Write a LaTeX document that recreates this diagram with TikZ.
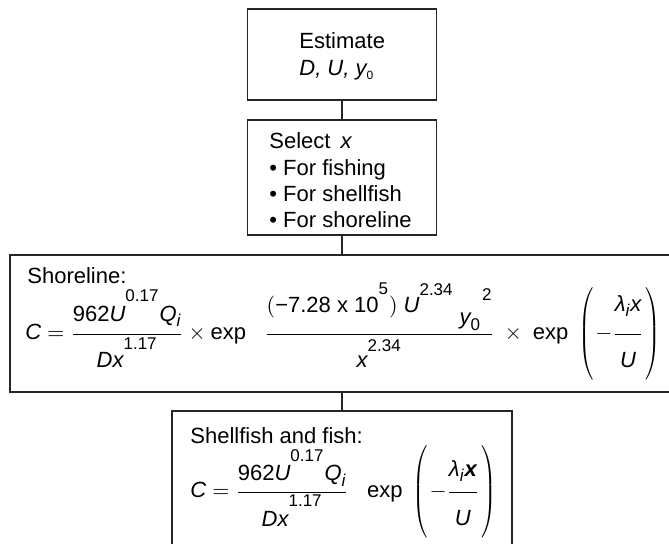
\documentclass[tikz,border=0pt]{standalone}
\usepackage{graphicx}
\usepackage{amsmath}
\usepackage{fontspec}
\setmainfont{Liberation Sans}
\newcommand{\iv}[1]{\text{\itshape #1}}
\newcommand{\pw}[2][7pt]{^{\raisebox{#1}{\fontsize{8.5}{9}\selectfont #2}}}
\newcommand{\pd}[1]{^{\raisebox{4.5pt}{\fontsize{8.5}{9}\selectfont #1}}}
\newcommand{\sbt}[1]{_{\text{\fontsize{8.5}{9}\selectfont #1}}}
\newcommand{\sm}[1]{{\upshape\fontsize{8.5}{9}\selectfont #1}}
% fraction with fixed gaps: num depth #3, den height #4
\newcommand{\wfrac}[4]{\dfrac{#1\rule[-#3]{0pt}{#3}}{\rule{0pt}{#4}#2}}
% tall narrow brackets
\newcommand{\bopen}{\mathopen{\scalebox{0.8}[1]{$\left(\rule[-22.25pt]{0pt}{50pt}\right.$}}}
\newcommand{\bclose}{\mathclose{\scalebox{0.8}[1]{$\left.\rule[-22.25pt]{0pt}{50pt}\right)$}}}

\begin{document}
\begin{tikzpicture}[x=0.5pt,y=-0.5pt,font={\fontsize{11}{13}\selectfont},
  box/.style={draw=black!85, line width=0.75pt, inner sep=0pt, outer sep=0pt},
  link/.style={draw=black!85, line width=0.6pt},
  txt/.style={anchor=base west, inner sep=0pt}]
\useasboundingbox (0,0) rectangle (669,543);
% boxes
\node[box, minimum width=94.5pt, minimum height=45.5pt] (estimate) at (342,54.5) {};
\node[box, minimum width=94.5pt, minimum height=57.5pt] (select) at (342,177.5) {};
\node[box, minimum width=332pt, minimum height=68.5pt] (shore) at (342,323.5) {};
\node[box, minimum width=170pt, minimum height=94.5pt] (shell) at (342,505.5) {};
% links
\draw[link] (estimate.south) -- (select.north);
\draw[link] (select.south) -- (shore.north);
\draw[link] (shore.south) -- (shell.north);
% texts
\node[txt] (estT) at (299,48) {Estimate};
\node[txt] (estV) at (299,75) {\itshape D, U, y\raisebox{-2pt}{\upshape\fontsize{6}{6}\selectfont 0}};
\node[txt] (selT) at (269,148) {Select\hspace{5pt}\textit{x}};
\node[txt] (selA) at (269,175) {\textbullet\ For fishing};
\node[txt] (selB) at (269,201) {\textbullet\ For shellfish};
\node[txt] (selC) at (269,227) {\textbullet\ For shoreline};
\node[txt] (shoreT) at (27,283) {Shoreline:};
\node[txt] (shoreEq) at (25,339.5) {$\iv{C} = \wfrac{\text{962}\iv{U}\pw[5.5pt]{0.17}\iv{Q}\sbt{\itshape i}}{\iv{Dx}\pd{1.17}}{4.6pt}{15pt} \times \text{exp}\;\;\; \wfrac{(\text{−7.28 x 10}\pd{5})\;\iv{U}\pd{2.34}\;\text{\itshape\raisebox{-6pt}{y}\raisebox{-9pt}{\sm{0}}\hspace{1pt}\raisebox{6pt}{\sm{2}}}}{\iv{x}\pd{2.34}}{9pt}{15pt} \;\times\;\text{exp}\;\,\bopen-\wfrac{\iv{λ}\sbt{\itshape i}\iv{x}}{\iv{U}}{9.6pt}{15pt}\bclose$};
\node[txt] (shellT) at (190,443) {Shellfish and fish:};
\node[txt] (shellEq) at (190,497.5) {$\iv{C} = \wfrac{\text{962}\iv{U}\pw[5.5pt]{0.17}\iv{Q}\sbt{\itshape i}}{\iv{Dx}\pw[5.5pt]{1.17}}{4pt}{15pt}\;\;\;\text{exp}\;\,\bopen-\wfrac{\iv{λ}\sbt{\itshape i}\text{\bfseries\itshape x}}{\iv{U}}{6pt}{15pt}\bclose$};
\end{tikzpicture}
\end{document}
